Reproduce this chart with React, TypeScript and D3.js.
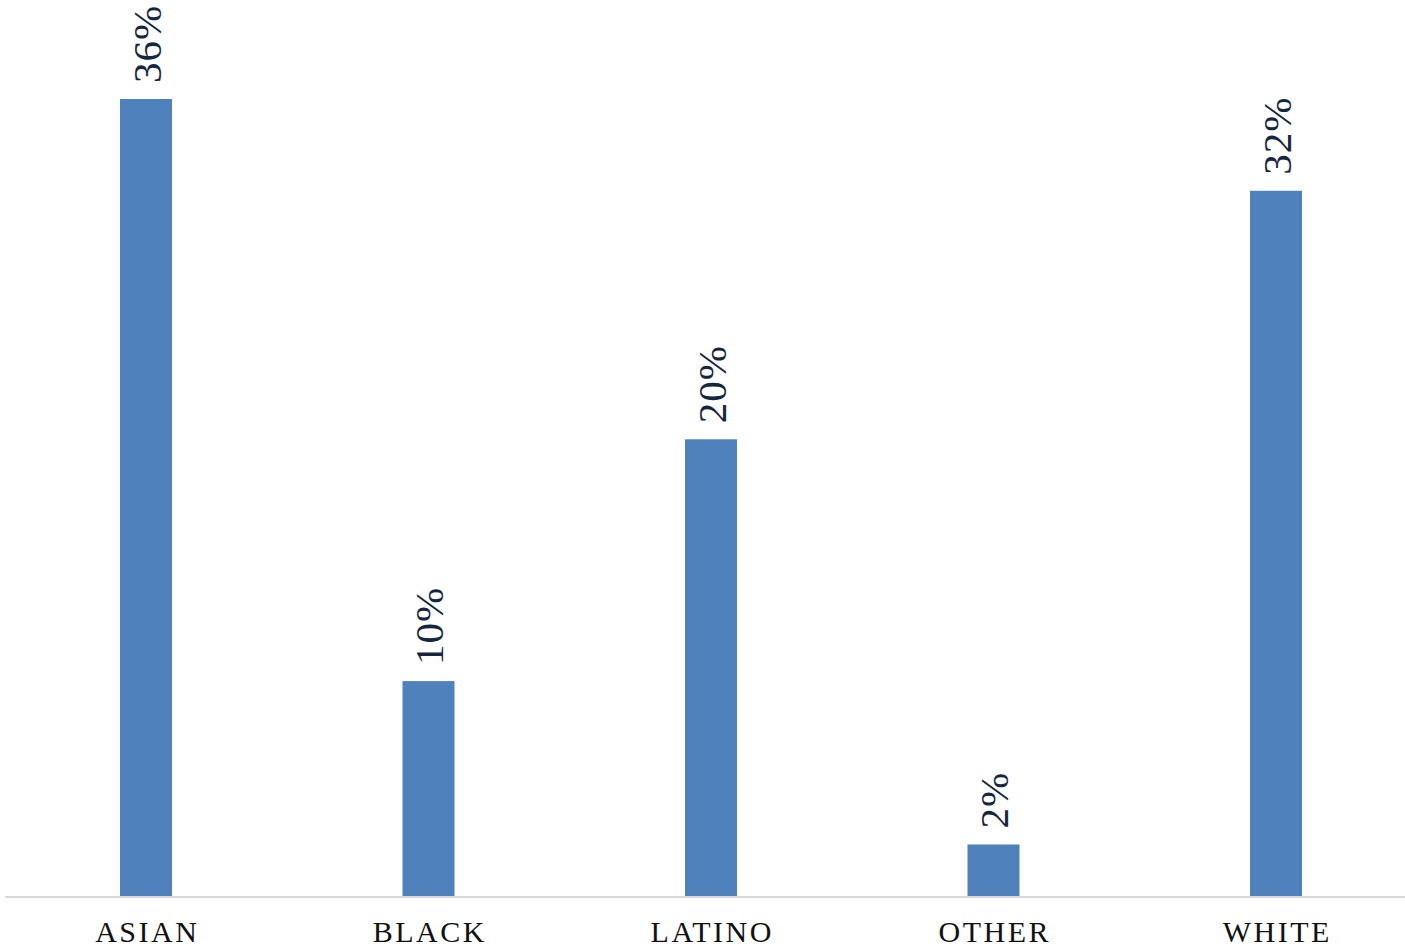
import React from "react";
import * as d3 from "d3";

const categories = ["ASIAN", "BLACK", "LATINO", "OTHER", "WHITE"];
const values = [35.6, 9.6, 20.4, 2.3, 31.5];

const W = 1405;
const H = 948;

export default function App() {
  const x = d3
    .scaleBand<string>()
    .domain(categories)
    .range([4.75, 1417.25])
    .paddingInner(0.816)
    .paddingOuter(0.408);
  const y = d3.scaleLinear().domain([0, 40]).range([896, 0.5]);
  const fmt = (v: number) => d3.format(".0f")(v) + "%";

  return (
    <svg
      width={W}
      height={H}
      style={{ position: "absolute", left: 0, top: 0, background: "#ffffff" }}
    >
      {categories.map((c, i) => {
        const bx = x(c) as number;
        const cx = bx + x.bandwidth() / 2;
        const top = y(values[i]);
        return (
          <g key={c}>
            <rect
              x={bx}
              y={top}
              width={x.bandwidth()}
              height={y(0) - top}
              fill="#4f81bd"
            />
            <text
              transform={`translate(${cx + 14.5},${top - 16}) rotate(-90)`}
              fontFamily="'Liberation Serif', 'DejaVu Serif', serif"
              fontSize={41}
              letterSpacing={1}
              fill="#14273e"
              textAnchor="start"
            >
              {fmt(values[i])}
            </text>
            <text
              x={cx + 1.25}
              y={941.5}
              fontFamily="'Liberation Serif', 'DejaVu Serif', serif"
              fontSize={30}
              letterSpacing={2.5}
              fill="#111111"
              textAnchor="middle"
            >
              {c}
            </text>
          </g>
        );
      })}
      <line x1={5} x2={1405} y1={897} y2={897} stroke="#d9d9d9" strokeWidth={2} />
    </svg>
  );
}
